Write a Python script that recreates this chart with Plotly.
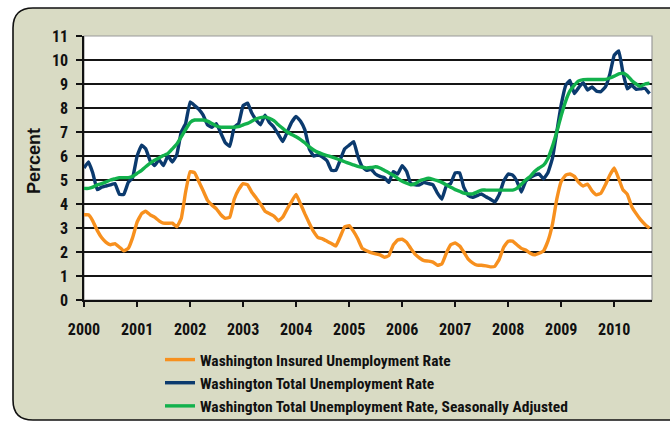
import pandas as pd
import plotly.graph_objects as go

# ---- data (monthly, Jan 2000 - Sep 2010) ----
months = pd.date_range("2000-01-01", periods=129, freq="MS")

insured = [
    3.55, 3.55, 3.3, 2.9, 2.6, 2.4, 2.3, 2.35, 2.2, 2.05, 2.15, 2.6,
    3.25, 3.6, 3.7, 3.55, 3.45, 3.3, 3.2, 3.2, 3.2, 3.05, 3.4, 4.5,
    5.35, 5.3, 4.95, 4.55, 4.15, 3.95, 3.8, 3.55, 3.4, 3.45, 4.2, 4.6,
    4.85, 4.8, 4.5, 4.25, 4.0, 3.7, 3.6, 3.5, 3.3, 3.45, 3.8, 4.1,
    4.4, 4.0, 3.6, 3.2, 2.85, 2.6, 2.55, 2.45, 2.35, 2.25, 2.65, 3.05,
    3.1, 2.85, 2.55, 2.15, 2.05, 1.97, 1.92, 1.88, 1.78, 1.85, 2.3, 2.5,
    2.53, 2.4, 2.15, 1.9, 1.75, 1.64, 1.62, 1.58, 1.45, 1.5, 1.95, 2.3,
    2.38, 2.25, 2.0, 1.7, 1.55, 1.45, 1.45, 1.42, 1.38, 1.4, 1.7, 2.2,
    2.45, 2.45, 2.3, 2.15, 2.08, 1.95, 1.88, 1.95, 2.05, 2.45, 3.15, 4.2,
    4.95, 5.2, 5.25, 5.15, 4.9, 4.75, 4.83, 4.55, 4.38, 4.45, 4.8, 5.2,
    5.5, 5.05, 4.6, 4.4, 3.9, 3.6, 3.35, 3.15, 2.99,
]

total = [
    5.5, 5.75, 5.3, 4.6, 4.7, 4.75, 4.8, 4.85, 4.4, 4.4, 4.9, 5.1,
    6.0, 6.45, 6.3, 5.8, 5.6, 5.85, 5.6, 6.0, 5.75, 6.05, 7.0, 7.35,
    8.25, 8.1, 7.95, 7.7, 7.3, 7.2, 7.35, 6.95, 6.55, 6.4, 7.2, 7.35,
    8.1, 8.2, 7.8, 7.5, 7.3, 7.7, 7.4, 7.2, 6.9, 6.6, 7.0, 7.4,
    7.65, 7.45, 7.1, 6.3, 6.0, 6.05, 5.95, 5.8, 5.4, 5.4, 5.85, 6.3,
    6.45, 6.6, 6.0, 5.55, 5.4, 5.45, 5.25, 5.15, 5.1, 4.9, 5.35, 5.25,
    5.6, 5.35, 4.85, 4.8, 4.8, 4.9, 4.85, 4.8, 4.45, 4.2, 4.75, 4.85,
    5.3, 5.3, 4.7, 4.35, 4.28, 4.35, 4.42, 4.3, 4.2, 4.08, 4.4, 4.95,
    5.25, 5.2, 4.95, 4.5, 4.95, 5.1, 5.2, 5.25, 5.05, 5.3, 5.9, 7.0,
    8.15, 8.95, 9.15, 8.6, 8.85, 9.05, 8.75, 8.88, 8.7, 8.68, 8.88, 9.4,
    10.2, 10.38, 9.5, 8.8, 8.95, 8.78, 8.8, 8.82, 8.6,
]

total_sa = [
    4.65, 4.65, 4.7, 4.8, 4.85, 4.92, 5.0, 5.05, 5.1, 5.1, 5.1, 5.15,
    5.28, 5.4, 5.55, 5.7, 5.82, 5.92, 6.02, 6.1, 6.3, 6.5, 6.8, 7.1,
    7.4, 7.5, 7.5, 7.5, 7.45, 7.35, 7.25, 7.2, 7.2, 7.2, 7.2, 7.22,
    7.3, 7.36, 7.45, 7.55, 7.6, 7.63, 7.57, 7.47, 7.3, 7.15, 7.0, 6.9,
    6.8, 6.68, 6.55, 6.38, 6.25, 6.15, 6.08, 6.02, 5.96, 5.9, 5.83, 5.76,
    5.69, 5.63, 5.57, 5.53, 5.5, 5.52, 5.55, 5.5, 5.4, 5.3, 5.2, 5.07,
    4.95, 4.87, 4.8, 4.85, 4.97, 5.03, 5.07, 5.03, 4.97, 4.9, 4.8, 4.7,
    4.6, 4.53, 4.45, 4.42, 4.42, 4.5, 4.58, 4.58, 4.58, 4.58, 4.58, 4.58,
    4.58, 4.58, 4.65, 4.82, 5.0, 5.15, 5.35, 5.5, 5.62, 5.9, 6.4, 7.0,
    7.7, 8.3, 8.7, 8.95, 9.13, 9.18, 9.19, 9.19, 9.19, 9.19, 9.19, 9.25,
    9.33, 9.42, 9.45, 9.35, 9.15, 9.0, 8.9, 9.0, 9.03,
]

years = [str(y) for y in range(2000, 2011)]
year_ticks = [f"{y}-01-01" for y in years]
y_ticks = list(range(0, 12))

series_names = [
    "Washington Insured Unemployment Rate",
    "Washington Total Unemployment Rate",
    "Washington Total Unemployment Rate, Seasonally Adjusted",
]
colors = ["#F7901E", "#0B3A6E", "#12B14C"]

FONT = "Liberation Sans Narrow, Arial Narrow, Roboto Condensed, DejaVu Sans Condensed, sans-serif"

fig = go.Figure()
for name, vals, col in zip(series_names, [insured, total, total_sa], colors):
    fig.add_trace(go.Scatter(
        x=months, y=vals, mode="lines", name=name, legendgroup=name,
        line=dict(color=col, width=3.4, shape="spline", smoothing=0.3),
        hoverinfo="skip",
    ))

# plot area pixel geometry
L, R, T, B = 84, 652, 36, 300
W, H = 670, 422


def px(x):
    return (x - L) / (R - L)


def py(y):
    return (B - y) / (B - T)


# rounded khaki frame
x0, x1, y0, y1, r = 13, 700, 8, 420, 20
path = (
    f"M {px(x0 + r)},{py(y0)} L {px(x1)},{py(y0)} L {px(x1)},{py(y1)} "
    f"L {px(x0 + r)},{py(y1)} Q {px(x0)},{py(y1)} {px(x0)},{py(y1 - r)} "
    f"L {px(x0)},{py(y0 + r)} Q {px(x0)},{py(y0)} {px(x0 + r)},{py(y0)} Z"
)
fig.add_shape(type="path", path=path, xref="paper", yref="paper",
              fillcolor="#D9DBC4", line=dict(color="#111111", width=1.6), layer="below")
fig.add_shape(type="rect", x0=0, x1=1, y0=0, y1=1, xref="paper", yref="paper",
              fillcolor="white", line=dict(color="#9A9A9A", width=1.2), layer="below")

fig.add_annotation(text="Percent", xref="paper", yref="paper", x=px(34), y=py(161),
                   xanchor="center", yanchor="middle",
                   textangle=-90, showarrow=False,
                   font=dict(family="Liberation Sans, Arial, sans-serif", size=18,
                             color="#111111", weight="bold"))

fig.update_layout(
    width=W, height=H,
    margin=dict(l=L, r=W - R, t=T, b=H - B, autoexpand=False),
    paper_bgcolor="white",
    plot_bgcolor="rgba(0,0,0,0)",
    font=dict(family=FONT, color="#111111"),
    showlegend=True,
    legend=dict(
        x=px(160), y=py(343), xanchor="left", yanchor="top",
        bgcolor="rgba(0,0,0,0)", traceorder="grouped", tracegroupgap=0,
        font=dict(family=FONT, size=15.5, color="#111111", weight="bold"),
    ),
    xaxis=dict(
        range=["2000-01-01", "2010-09-18"],
        tickvals=year_ticks, ticktext=years,
        showgrid=False, zeroline=False,
        showline=True, linecolor="#111111", linewidth=1.5,
        ticks="outside", ticklen=5, tickwidth=1.5, tickcolor="#111111",
        tickfont=dict(family=FONT, size=16, color="#111111", weight="bold"),
        ticklabelstandoff=9,
    ),
    yaxis=dict(
        range=[0, 11], tickvals=y_ticks,
        showgrid=True, gridcolor="#151515", gridwidth=1.5,
        zeroline=False,
        showline=True, linecolor="#111111", linewidth=1.5,
        ticks="outside", ticklen=6, tickwidth=1.5, tickcolor="#111111",
        tickfont=dict(family=FONT, size=16, color="#111111", weight="bold"),
        ticklabelstandoff=5,
    ),
)

fig.write_html("out.html", config={"displayModeBar": False},
               post_script="document.body.style.margin='0';")
